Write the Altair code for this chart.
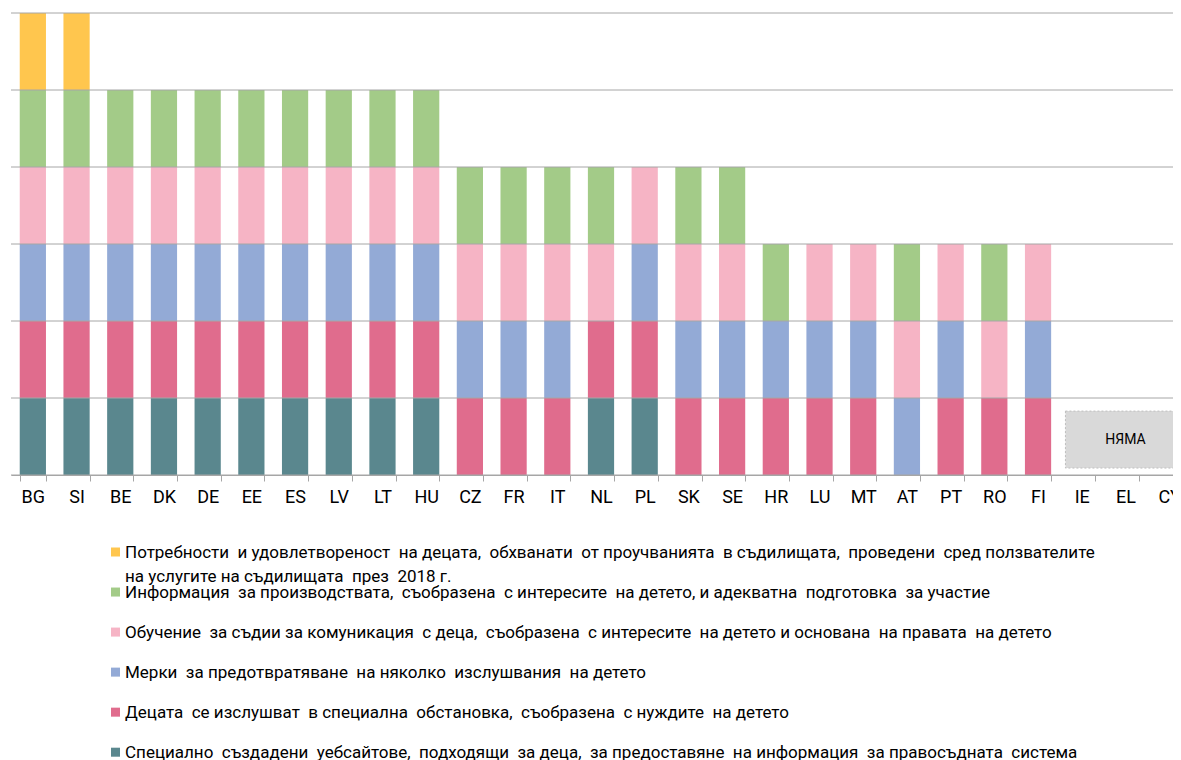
import altair as alt
import pandas as pd

countries = ["BG", "SI", "BE", "DK", "DE", "EE", "ES", "LV", "LT", "HU", "CZ", "FR", "IT", "NL",
             "PL", "SK", "SE", "HR", "LU", "MT", "AT", "PT", "RO", "FI", "IE", "EL", "CY"]

# series listed bottom to top of stack
series_keys = ["web", "setting", "multiple", "training", "info", "needs"]
series_labels = [
    "Специално  създадени  уебсайтове,  подходящи  за деца,  за предоставяне  на информация  за правосъдната  система",
    "Децата  се изслушват  в специална  обстановка,  съобразена  с нуждите  на детето",
    "Мерки  за предотвратяване  на няколко  изслушвания  на детето",
    "Обучение  за съдии за комуникация  с деца,  съобразена  с интересите  на детето и основана  на правата  на детето",
    "Информация  за производствата,  съобразена  с интересите  на детето, и адекватна  подготовка  за участие",
    "Потребности  и удовлетвореност  на децата,  обхванати  от проучванията  в съдилищата,  проведени  сред ползвателите\nна услугите на съдилищата  през  2018 г.",
]
series_colors = ["#5A878E", "#E06C8D", "#93AAD6", "#F6B4C5", "#A3CB88", "#FFC64E"]

web      = [1, 1, 1, 1, 1, 1, 1, 1, 1, 1, 0, 0, 0, 1, 1, 0, 0, 0, 0, 0, 0, 0, 0, 0, 0, 0, 0]
setting  = [1, 1, 1, 1, 1, 1, 1, 1, 1, 1, 1, 1, 1, 1, 1, 1, 1, 1, 1, 1, 0, 1, 1, 1, 0, 0, 0]
multiple = [1, 1, 1, 1, 1, 1, 1, 1, 1, 1, 1, 1, 1, 0, 1, 1, 1, 1, 1, 1, 1, 1, 0, 1, 0, 0, 0]
training = [1, 1, 1, 1, 1, 1, 1, 1, 1, 1, 1, 1, 1, 1, 1, 1, 1, 0, 1, 1, 1, 1, 1, 1, 0, 0, 0]
info     = [1, 1, 1, 1, 1, 1, 1, 1, 1, 1, 1, 1, 1, 1, 0, 1, 1, 1, 0, 0, 1, 0, 1, 0, 0, 0, 0]
needs    = [1, 1, 0, 0, 0, 0, 0, 0, 0, 0, 0, 0, 0, 0, 0, 0, 0, 0, 0, 0, 0, 0, 0, 0, 0, 0, 0]
presence = [web, setting, multiple, training, info, needs]

grid_values = [0, 1, 2, 3, 4, 5, 6]

none_label = "НЯМА"

rows = []
for si, (key, vals) in enumerate(zip(series_keys, presence)):
    for c, v in zip(countries, vals):
        if v:
            rows.append({"country": c, "series": key, "order": si, "value": v})
df = pd.DataFrame(rows)

color_scale = alt.Scale(domain=series_keys, range=series_colors)
y_scale = alt.Scale(domain=[0, 6], nice=False, zero=True)
x_scale = alt.Scale(domain=countries, range=[0, 1180], paddingInner=0.4, paddingOuter=0.2)

FONT = "Roboto"
GRID = "#A6A6A6"

bars = alt.Chart(df).mark_bar().encode(
    x=alt.X("country:N", sort=countries, scale=x_scale,
            axis=alt.Axis(title=None, labelAngle=0, tickBand="extent", grid=False,
                          domainColor=GRID, tickColor=GRID, tickSize=6,
                          labelFontSize=18, labelColor="#000000", labelFont=FONT,
                          labelPadding=7)),
    y=alt.Y("sum(value):Q", scale=y_scale, stack="zero", axis=None),
    color=alt.Color("series:N", scale=color_scale, legend=None),
    order=alt.Order("order:Q", sort="ascending"),
)

grid = alt.Chart(pd.DataFrame({"v": grid_values})).mark_rule(color=GRID, strokeWidth=1).encode(
    y=alt.Y("v:Q", scale=y_scale, axis=None),
)

none_df = pd.DataFrame({"country": ["EL"], "label": [none_label], "y0": [0.09], "y1": [0.83], "ym": [0.46]})
none_box = alt.Chart(none_df).mark_bar(width=120, fill="#D9D9D9", stroke="#BFBFBF",
                                       strokeDash=[2, 2], strokeWidth=1).encode(
    x=alt.X("country:N", sort=countries, scale=x_scale),
    y=alt.Y("y0:Q", scale=y_scale, axis=None),
    y2="y1:Q",
)
none_text = alt.Chart(none_df).mark_text(fontSize=14, font=FONT, color="#000000").encode(
    x=alt.X("country:N", sort=countries, scale=x_scale),
    y=alt.Y("ym:Q", scale=y_scale, axis=None),
    text="label:N",
)

# legend (top to bottom: reverse of stack order)
leg_rows = []
for r, si in enumerate(reversed(range(len(series_keys)))):
    leg_rows.append({"series": series_keys[si],
                     "label": series_labels[si].replace("  ", "\u00a0 "),
                     "row": r})
leg = pd.DataFrame(leg_rows)
leg["ly"] = -1.0 - 0.52 * leg["row"]

leg_sym = alt.Chart(leg).mark_square(size=81, opacity=1).encode(
    x=alt.value(104.5),
    y=alt.Y("ly:Q", scale=y_scale, axis=None),
    color=alt.Color("series:N", scale=color_scale, legend=None),
)
leg_txt = alt.Chart(leg).mark_text(align="left", baseline="alphabetic", dy=6, fontSize=17,
                                   font=FONT, color="#000000", lineBreak="\n",
                                   lineHeight=24).encode(
    x=alt.value(114),
    y=alt.Y("ly:Q", scale=y_scale, axis=None),
    text="label:N",
)

chart = alt.layer(bars, grid, none_box, none_text, leg_sym, leg_txt).properties(
    width=1162, height=462,
    autosize=alt.AutoSizeParams(type="none"),
    padding={"left": 3, "top": 5, "right": 0, "bottom": 300},
).configure_view(stroke=None)

chart.save("out.html", embed_options={"renderer": "svg", "actions": False})
